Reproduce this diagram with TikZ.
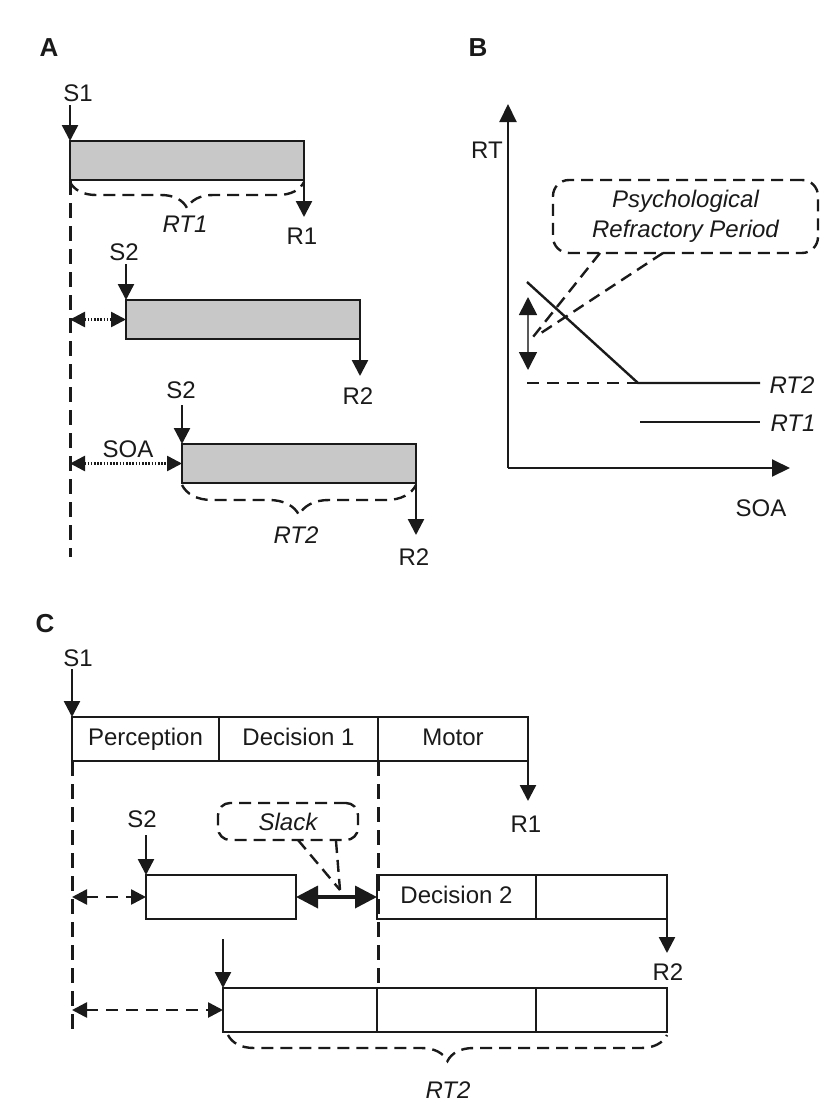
\documentclass[tikz,border=0pt]{standalone}
\usepackage{fontspec}
\setmainfont{Liberation Sans}
\usetikzlibrary{arrows.meta,decorations.pathreplacing,positioning}
\definecolor{ink}{HTML}{1A1A1A}
\definecolor{bargray}{HTML}{C8C8C8}
\tikzset{
  lbl/.style={inner sep=0pt,text=ink,font=\fontsize{24}{30}\selectfont},
  ilbl/.style={inner sep=0pt,text=ink,font=\fontsize{24}{30}\selectfont\itshape},
  panel/.style={inner sep=0pt,text=ink,font=\fontsize{26}{30}\selectfont\bfseries},
  graybar/.style={draw=ink,line width=2.4pt,fill=bargray,minimum width=234pt,
    minimum height=39pt,anchor=north west,inner sep=0pt,outer sep=0pt},
  stage/.style={draw=ink,line width=1.6pt,minimum height=44pt,anchor=north west,
    inner sep=0pt,outer sep=0pt,text height=17pt,text depth=5pt,text=ink,
    font=\fontsize{24}{30}\selectfont},
  dashln/.style={draw=ink,line width=3pt,dash pattern=on 15pt off 8pt},
  arr/.style={draw=ink,line width=2.4pt,-{Triangle[length=16pt,width=16pt]}},
  dotarr/.style={draw=ink,line width=2.6pt,dash pattern=on 1.6pt off 1.6pt,
    {Triangle[length=15pt,width=15pt]}-{Triangle[length=15pt,width=15pt]}},
  dasharr/.style={draw=ink,line width=2.6pt,dash pattern=on 12pt off 8pt,
    {Triangle[length=15pt,width=15pt]}-{Triangle[length=15pt,width=15pt]}},
  slackarr/.style={draw=ink,line width=3.6pt,
    {Triangle[length=22pt,width=22pt]}-{Triangle[length=22pt,width=22pt]}},
  axis/.style={draw=ink,line width=2pt,-{Triangle[length=18pt,width=17pt]}},
  curve/.style={draw=ink,line width=2.4pt},
  bubble/.style={draw=ink,line width=2.4pt,dash pattern=on 12pt off 7pt,
    rounded corners=16pt,inner sep=0pt,text=ink,align=center,
    font=\fontsize{24}{30}\selectfont\itshape},
  bubbleln/.style={draw=ink,line width=2.4pt,dash pattern=on 12pt off 7pt},
  rtbrace/.style={draw=ink,line width=2.4pt,dash pattern=on 12pt off 7pt,
    decorate,decoration={brace,mirror,amplitude=#1,raise=2pt}},
}

\begin{document}
\begin{tikzpicture}[x=1pt,y=-1pt]
  \useasboundingbox[fill=white] (0,0) rectangle (838,1103);

  % panel A: three trials
  \node[panel] (pa) at (49,48) {A};
  \node[graybar] (a1) at (70,141) {};
  \node[graybar] (a2) at (126,300) {};
  \node[graybar] (a3) at (182,444) {};
  \node[lbl] (s1a) at (78,93) {S1};
  \node[lbl] (s2a) at (124,252) {S2};
  \node[lbl] (s2b) at (181,390) {S2};
  \node[lbl] (r1a) at (302,236) {R1};
  \node[lbl] (r2a) at (358,396) {R2};
  \node[lbl] (r2b) at (414,557) {R2};
  \node[lbl] (soa) at (128,449) {SOA};
  \node[ilbl] (rt1a) at (185,224) {RT1};
  \node[ilbl] (rt2a) at (296,535) {RT2};
  \coordinate[above=36pt of a1.north west] (in1);
  \coordinate[above=36pt of a2.north west] (in2);
  \coordinate[above=39pt of a3.north west] (in3);
  \coordinate[below=37pt of a1.south east] (out1);
  \coordinate[below=37pt of a2.south east] (out2);
  \coordinate[below=52pt of a3.south east] (out3);
  \coordinate (zeroa) at (70,557);
  \coordinate (lag1) at (70,319.5);
  \coordinate (lag2) at (70,463.5);
  \draw[dashln] (a1.south west) -- (zeroa);
  \foreach \s/\b in {in1/a1,in2/a2,in3/a3} {\draw[arr] (\s) -- (\b.north west);}
  \foreach \b/\r in {a1/out1,a2/out2,a3/out3} {\draw[arr] (\b.south east) -- (\r);}
  \draw[dotarr] (lag1) -- (a2.west);
  \draw[dotarr] (lag2) -- (a3.west);
  \draw[rtbrace=26pt] (a1.south west) -- (a1.south east);
  \draw[rtbrace=30pt] (a3.south west) -- (a3.south east);

  % panel B: RT against SOA
  \node[panel] (pb) at (478,48) {B};
  \coordinate (orig) at (508,468);
  \draw[axis] (orig) -- (508,104);
  \draw[axis] (orig) -- (790,468);
  \node[lbl] (rt) at (487,150) {RT};
  \node[lbl] (soax) at (761,508) {SOA};
  \draw[curve] (527,282) -- (638,383) -- (760,383);
  \draw[dashln,line width=2.4pt,dash pattern=on 12pt off 8pt] (527,383) -- (638,383);
  \draw[curve] (640,422) -- (760,422);
  \node[ilbl] (rt2b) at (792,385) {RT2};
  \node[ilbl] (rt1b) at (793,423) {RT1};
  \draw[draw=gray!70!black,line width=1.6pt,
    {Triangle[length=18pt,width=18pt,color=ink]}-{Triangle[length=18pt,width=18pt,color=ink]}]
    (528,297) -- (528,370);
  \node[bubble,minimum width=265pt,minimum height=73pt] (prp) at (685.5,216.5)
    {Psychological\\Refractory Period};
  \coordinate (prptip) at (533,337);
  \draw[bubbleln] (600,253) -- (prptip);
  \draw[bubbleln] (663,253) -- (541,333);

  % panel C: stage model
  \node[panel] (pc) at (45,624) {C};
  \node[stage,minimum width=147pt] (perc) at (72,717) {Perception};
  \node[stage,minimum width=159pt] (dec1) at (perc.north east) {Decision 1};
  \node[stage,minimum width=150pt] (motor) at (dec1.north east) {Motor};
  \node[stage,minimum width=150pt] (perc2) at (146,875) {};
  \node[stage,minimum width=159pt] (dec2) at (377,875) {Decision 2};
  \node[stage,minimum width=131pt] (motor2) at (dec2.north east) {};
  \node[stage,minimum width=154pt] (perc3) at (223,988) {};
  \node[stage,minimum width=159pt] (dec3) at (perc3.north east) {};
  \node[stage,minimum width=131pt] (motor3) at (dec3.north east) {};
  \node[lbl] (s1c) at (78,658) {S1};
  \node[lbl] (s2c) at (142,819) {S2};
  \node[lbl] (r1c) at (526,824) {R1};
  \node[lbl] (r2c) at (668,972) {R2};
  \node[ilbl] (rt2c) at (448,1090) {RT2};
  \coordinate[above=48pt of perc.north west] (in1c);
  \coordinate[above=40pt of perc2.north west] (in2c);
  \coordinate[above=49pt of perc3.north west] (in3c);
  \coordinate[below=40pt of motor.south east] (out1c);
  \coordinate[below=34pt of motor2.south east] (out2c);
  \coordinate (zeroc) at (72,1035);
  \coordinate (lag1c) at (72,897);
  \coordinate (lag2c) at (72,1010);
  \draw[dashln] (perc.south west) -- (zeroc);
  \draw[dashln] (dec1.south east) -- (dec1.south east |- perc3.north);
  \foreach \s/\b in {in1c/perc,in2c/perc2,in3c/perc3} {\draw[arr] (\s) -- (\b.north west);}
  \draw[arr] (motor.south east) -- (out1c);
  \draw[arr] (motor2.south east) -- (out2c);
  \draw[dasharr] (lag1c) -- (perc2.west);
  \draw[dasharr] (lag2c) -- (perc3.west);
  \draw[slackarr] (perc2.east) -- (dec2.west);
  \node[bubble,minimum width=140pt,minimum height=37pt,rounded corners=12pt] (slack)
    at (288,821.5) {Slack};
  \coordinate (slacktip) at (340,890);
  \draw[bubbleln] (298,840) -- (slacktip);
  \draw[bubbleln] (336,841) -- (slacktip);
  \draw[rtbrace=26pt] (228,1033) -- (motor3.south east |- 0,1033);
\end{tikzpicture}
\end{document}
